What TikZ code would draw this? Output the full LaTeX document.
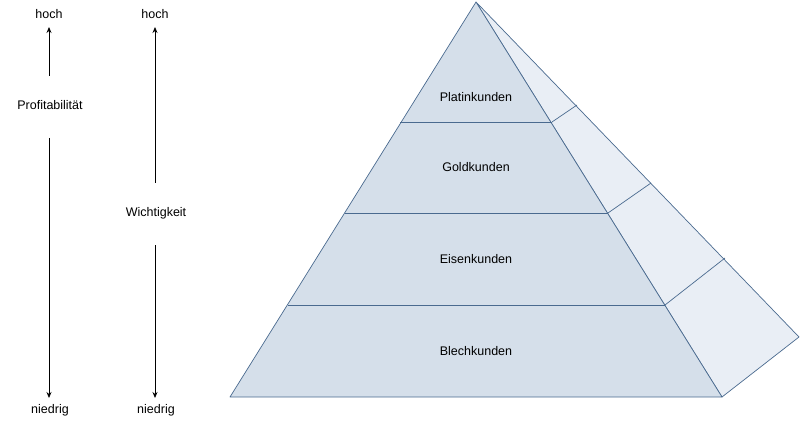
\documentclass[tikz,border=0pt]{standalone}
\usepackage{fontspec}
\setmainfont{Liberation Sans}
\usetikzlibrary{arrows.meta}
\definecolor{front}{HTML}{D5DFEA}
\definecolor{side}{HTML}{E9EEF5}
\definecolor{edge}{HTML}{4A6A8F}
\begin{document}
\begin{tikzpicture}[x=1pt,y=-1pt,
  lbl/.style={font=\fontsize{12.5}{14}\selectfont,inner sep=1pt},
  ar/.style={thick,-{Stealth[length=6pt,width=5pt]}},
  face/.style={draw=edge,line width=0.7pt,line join=round}]
\useasboundingbox (0,0) rectangle (800,422);
% side
\path[face,fill=side] (476,2) -- (799,337) -- (722,397) -- cycle;
\draw[face] (552,122) -- (577,105);
\draw[face] (608,213) -- (651,183);
\draw[face] (665,305) -- (725,258);
% front
\path[face,fill=front] (476,2) -- (722,397) -- (230,397) -- cycle;
\draw[face] (400,122) -- (552,122);
\draw[face] (345,213) -- (608,213);
\draw[face] (288,305) -- (665,305);
\node[lbl] (p) at (476,97) {Platinkunden};
\node[lbl] (g) at (476,167) {Goldkunden};
\node[lbl] (e) at (476,259) {Eisenkunden};
\node[lbl] (b) at (476,351) {Blechkunden};
% left scales
\node[lbl] (h1) at (49,14) {hoch};
\node[lbl] (pr) at (50,105) {Profitabilität};
\node[lbl] (n1) at (50,410) {niedrig};
\coordinate (a1s) at (49,76); \coordinate (a1e) at (49,27);
\coordinate (a2s) at (49,138); \coordinate (a2e) at (49,398);
\draw[ar] (a1s) -- (a1e);
\draw[ar] (a2s) -- (a2e);
\node[lbl] (h2) at (155,14) {hoch};
\node[lbl] (w) at (156,213) {Wichtigkeit};
\node[lbl] (n2) at (156,410) {niedrig};
\coordinate (b1s) at (155,183); \coordinate (b1e) at (155,27);
\coordinate (b2s) at (155,245); \coordinate (b2e) at (155,398);
\draw[ar] (b1s) -- (b1e);
\draw[ar] (b2s) -- (b2e);
\end{tikzpicture}
\end{document}
